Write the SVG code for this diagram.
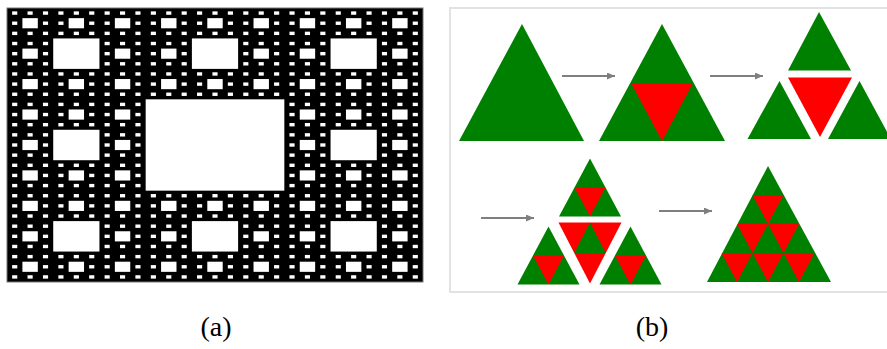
<svg xmlns="http://www.w3.org/2000/svg" xmlns:xlink="http://www.w3.org/1999/xlink" width="887" height="349" viewBox="0 0 887 349">
<style>
.hole{fill:#ffffff}
.g{fill:#008000}
.r{fill:#ff0000}
.arr{stroke:#7f7f7f;stroke-width:2;fill:none;marker-end:url(#ah)}
.lbl{font-family:"Liberation Serif","Times New Roman",serif;font-size:28px;fill:#000;text-anchor:middle}
</style>
<defs>
<marker id="ah" markerUnits="userSpaceOnUse" markerWidth="9" markerHeight="8" refX="8" refY="3.5" orient="auto">
<path d="M0,0 L8,3.5 L0,7 z" fill="#7f7f7f"/>
</marker>
<g id="s1"><rect class="hole" x="1" y="1" width="1" height="1"/></g>
<g id="s2"><rect class="hole" x="3" y="3" width="3" height="3"/>
<use xlink:href="#s1" x="0" y="0"/><use xlink:href="#s1" x="3" y="0"/><use xlink:href="#s1" x="6" y="0"/>
<use xlink:href="#s1" x="0" y="3"/><use xlink:href="#s1" x="6" y="3"/>
<use xlink:href="#s1" x="0" y="6"/><use xlink:href="#s1" x="3" y="6"/><use xlink:href="#s1" x="6" y="6"/>
</g>
<g id="s3"><rect class="hole" x="9" y="9" width="9" height="9"/>
<use xlink:href="#s2" x="0" y="0"/><use xlink:href="#s2" x="9" y="0"/><use xlink:href="#s2" x="18" y="0"/>
<use xlink:href="#s2" x="0" y="9"/><use xlink:href="#s2" x="18" y="9"/>
<use xlink:href="#s2" x="0" y="18"/><use xlink:href="#s2" x="9" y="18"/><use xlink:href="#s2" x="18" y="18"/>
</g>
<g id="s4"><rect class="hole" x="27" y="27" width="27" height="27"/>
<use xlink:href="#s3" x="0" y="0"/><use xlink:href="#s3" x="27" y="0"/><use xlink:href="#s3" x="54" y="0"/>
<use xlink:href="#s3" x="0" y="27"/><use xlink:href="#s3" x="54" y="27"/>
<use xlink:href="#s3" x="0" y="54"/><use xlink:href="#s3" x="27" y="54"/><use xlink:href="#s3" x="54" y="54"/>
</g>
</defs>
<rect x="0" y="0" width="887" height="349" fill="#ffffff"/>

<g id="carpet">
<rect x="7" y="8" width="416" height="274" fill="#000000" stroke="#777777" stroke-width="1"/>
<use xlink:href="#s4" transform="translate(7,8) scale(5.1358,3.3827)"/>
</g>

<g id="panel-b">
<rect x="450" y="8" width="442" height="284" fill="#ffffff" stroke="#e2e2e2" stroke-width="2"/>
</g>

<g id="stage1">
<polygon class="g" points="522,24 459,141 584,141"/>
</g>

<g id="stage2">
<polygon class="g" points="662,24 599,141 725,141"/>
<polygon class="r" points="631,83 693,83 662,141"/>
</g>

<g id="stage3">
<polygon class="g" points="819,12 788,70.5 851,70.5"/>
<polygon class="r" points="788,77.5 852,77.5 820,137"/>
<polygon class="g" points="779.5,81 747.5,139 811,139"/>
<polygon class="g" points="859.5,81 828,139 891,139"/>
</g>

<g id="stage4">
<polygon class="g" points="590,158.5 559,216.5 621,216.5"/>
<polygon class="r" points="574.5,187.5 605.5,187.5 590,216.5"/>
<polygon class="r" points="558.5,222.5 621.5,222.5 590,283.5"/>
<polygon class="g" points="590,222.5 574.25,253 605.75,253"/>
<polygon class="g" points="548.5,226.5 517.5,284.5 579.5,284.5"/>
<polygon class="r" points="533,255.5 564,255.5 548.5,284.5"/>
<polygon class="g" points="630.5,226.5 599.5,284.5 661.5,284.5"/>
<polygon class="r" points="615,255.5 646,255.5 630.5,284.5"/>
</g>

<g id="stage5">
<polygon class="g" points="768,166 707,282 831,282"/>
<polygon class="r" points="752.5,195 783.5,195 768,224"/>
<polygon class="r" points="737,224 768,224 752.5,253"/>
<polygon class="r" points="768,224 799,224 783.5,253"/>
<polygon class="r" points="721.5,253 752.5,253 737,282"/>
<polygon class="r" points="752.5,253 783.5,253 768,282"/>
<polygon class="r" points="783.5,253 814.5,253 799,282"/>
</g>

<g id="connectors">
<line class="arr" x1="562" y1="76" x2="615" y2="76"/>
<line class="arr" x1="710" y1="76" x2="763" y2="76"/>
<line class="arr" x1="481" y1="218" x2="534" y2="218"/>
<line class="arr" x1="659" y1="211" x2="712" y2="211"/>
</g>

<g id="labels">
<text class="lbl" x="216" y="336">(a)</text>
<text class="lbl" x="652" y="336">(b)</text>
</g>
</svg>
